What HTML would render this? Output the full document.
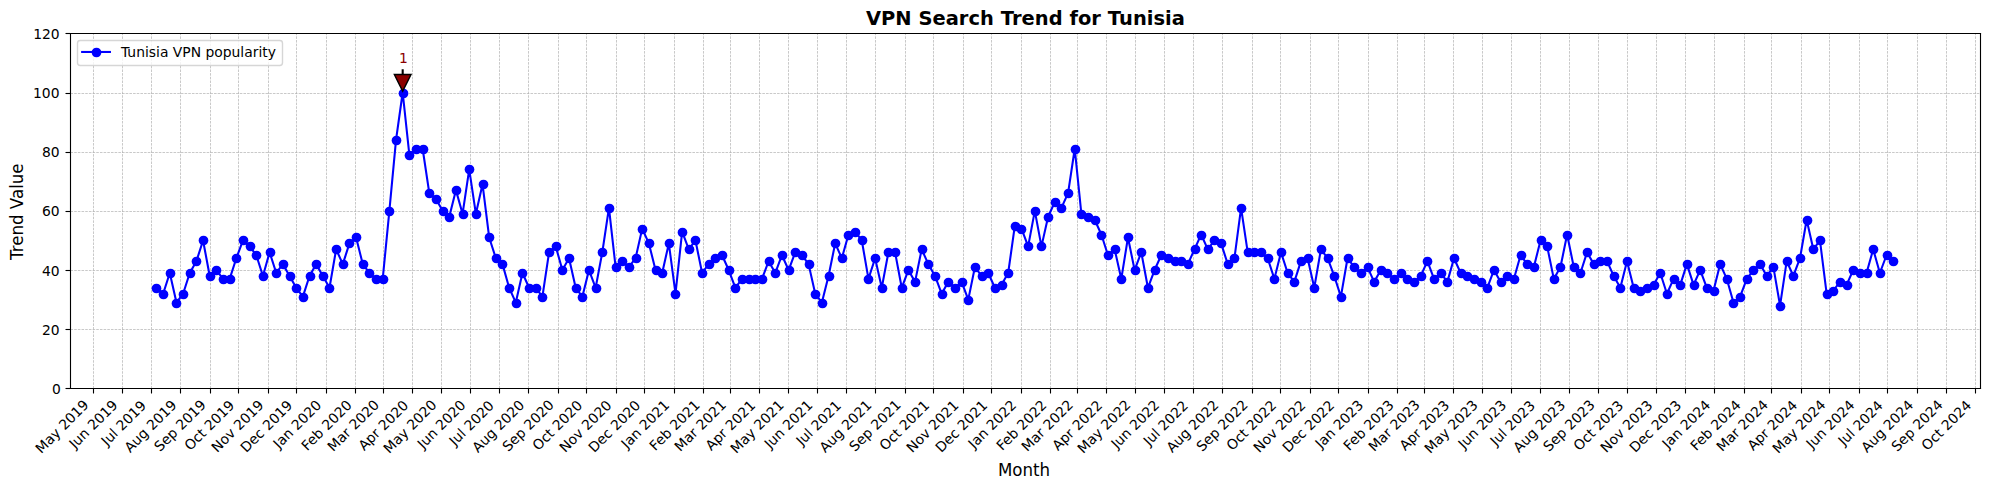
<!DOCTYPE html>
<html lang="en">
<head>
<meta charset="utf-8">
<title>VPN Search Trend for Tunisia</title>
<style>
html,body{margin:0;padding:0;background:#fff}
body{width:1990px;height:490px;overflow:hidden}
svg{display:block}
text{font-family:"DejaVu Sans", "Liberation Sans", sans-serif;fill:#000}
.t10{font-size:13.89px}
.t12{font-size:16.67px}
.ttl{font-size:19.44px;font-weight:bold}
.ann{font-size:13.89px;fill:#8b0000}
.grid line{stroke:#b0b0b0;stroke-width:0.69;stroke-dasharray:2.57 1.11}
.series{fill:none;stroke:#0000ff;stroke-width:2.08;stroke-linejoin:round;stroke-linecap:square}
.dots circle,.legdot{fill:#0000ff}
.arrow{fill:#8b0000;stroke:#000;stroke-width:1.39;stroke-linejoin:miter}
.frame line{stroke:#000;stroke-width:1.11;stroke-linecap:square}
.ticks line{stroke:#000;stroke-width:1.11}
.legbox{fill:#fff;fill-opacity:.8;stroke:#ccc;stroke-opacity:.8;stroke-width:1.39}
</style>
</head>
<body>
<svg width="1990" height="490" viewBox="0 0 1990 490" role="img" aria-label="VPN Search Trend for Tunisia">
<rect x="0" y="0" width="1990" height="490" fill="#ffffff"/>
<g class="grid">
<line x1="93.5" y1="388.5" x2="93.5" y2="33.5"/>
<line x1="122.5" y1="388.5" x2="122.5" y2="33.5"/>
<line x1="151.5" y1="388.5" x2="151.5" y2="33.5"/>
<line x1="180.5" y1="388.5" x2="180.5" y2="33.5"/>
<line x1="210.5" y1="388.5" x2="210.5" y2="33.5"/>
<line x1="238.5" y1="388.5" x2="238.5" y2="33.5"/>
<line x1="268.5" y1="388.5" x2="268.5" y2="33.5"/>
<line x1="296.5" y1="388.5" x2="296.5" y2="33.5"/>
<line x1="326.5" y1="388.5" x2="326.5" y2="33.5"/>
<line x1="355.5" y1="388.5" x2="355.5" y2="33.5"/>
<line x1="383.5" y1="388.5" x2="383.5" y2="33.5"/>
<line x1="412.5" y1="388.5" x2="412.5" y2="33.5"/>
<line x1="441.5" y1="388.5" x2="441.5" y2="33.5"/>
<line x1="470.5" y1="388.5" x2="470.5" y2="33.5"/>
<line x1="499.5" y1="388.5" x2="499.5" y2="33.5"/>
<line x1="528.5" y1="388.5" x2="528.5" y2="33.5"/>
<line x1="558.5" y1="388.5" x2="558.5" y2="33.5"/>
<line x1="586.5" y1="388.5" x2="586.5" y2="33.5"/>
<line x1="616.5" y1="388.5" x2="616.5" y2="33.5"/>
<line x1="644.5" y1="388.5" x2="644.5" y2="33.5"/>
<line x1="674.5" y1="388.5" x2="674.5" y2="33.5"/>
<line x1="703.5" y1="388.5" x2="703.5" y2="33.5"/>
<line x1="730.5" y1="388.5" x2="730.5" y2="33.5"/>
<line x1="759.5" y1="388.5" x2="759.5" y2="33.5"/>
<line x1="788.5" y1="388.5" x2="788.5" y2="33.5"/>
<line x1="817.5" y1="388.5" x2="817.5" y2="33.5"/>
<line x1="846.5" y1="388.5" x2="846.5" y2="33.5"/>
<line x1="875.5" y1="388.5" x2="875.5" y2="33.5"/>
<line x1="905.5" y1="388.5" x2="905.5" y2="33.5"/>
<line x1="933.5" y1="388.5" x2="933.5" y2="33.5"/>
<line x1="963.5" y1="388.5" x2="963.5" y2="33.5"/>
<line x1="991.5" y1="388.5" x2="991.5" y2="33.5"/>
<line x1="1021.5" y1="388.5" x2="1021.5" y2="33.5"/>
<line x1="1050.5" y1="388.5" x2="1050.5" y2="33.5"/>
<line x1="1077.5" y1="388.5" x2="1077.5" y2="33.5"/>
<line x1="1106.5" y1="388.5" x2="1106.5" y2="33.5"/>
<line x1="1135.5" y1="388.5" x2="1135.5" y2="33.5"/>
<line x1="1164.5" y1="388.5" x2="1164.5" y2="33.5"/>
<line x1="1193.5" y1="388.5" x2="1193.5" y2="33.5"/>
<line x1="1222.5" y1="388.5" x2="1222.5" y2="33.5"/>
<line x1="1252.5" y1="388.5" x2="1252.5" y2="33.5"/>
<line x1="1280.5" y1="388.5" x2="1280.5" y2="33.5"/>
<line x1="1310.5" y1="388.5" x2="1310.5" y2="33.5"/>
<line x1="1338.5" y1="388.5" x2="1338.5" y2="33.5"/>
<line x1="1368.5" y1="388.5" x2="1368.5" y2="33.5"/>
<line x1="1397.5" y1="388.5" x2="1397.5" y2="33.5"/>
<line x1="1424.5" y1="388.5" x2="1424.5" y2="33.5"/>
<line x1="1453.5" y1="388.5" x2="1453.5" y2="33.5"/>
<line x1="1482.5" y1="388.5" x2="1482.5" y2="33.5"/>
<line x1="1511.5" y1="388.5" x2="1511.5" y2="33.5"/>
<line x1="1540.5" y1="388.5" x2="1540.5" y2="33.5"/>
<line x1="1569.5" y1="388.5" x2="1569.5" y2="33.5"/>
<line x1="1598.5" y1="388.5" x2="1598.5" y2="33.5"/>
<line x1="1627.5" y1="388.5" x2="1627.5" y2="33.5"/>
<line x1="1656.5" y1="388.5" x2="1656.5" y2="33.5"/>
<line x1="1685.5" y1="388.5" x2="1685.5" y2="33.5"/>
<line x1="1714.5" y1="388.5" x2="1714.5" y2="33.5"/>
<line x1="1744.5" y1="388.5" x2="1744.5" y2="33.5"/>
<line x1="1771.5" y1="388.5" x2="1771.5" y2="33.5"/>
<line x1="1801.5" y1="388.5" x2="1801.5" y2="33.5"/>
<line x1="1829.5" y1="388.5" x2="1829.5" y2="33.5"/>
<line x1="1859.5" y1="388.5" x2="1859.5" y2="33.5"/>
<line x1="1887.5" y1="388.5" x2="1887.5" y2="33.5"/>
<line x1="1917.5" y1="388.5" x2="1917.5" y2="33.5"/>
<line x1="1946.5" y1="388.5" x2="1946.5" y2="33.5"/>
<line x1="1975.5" y1="388.5" x2="1975.5" y2="33.5"/>
<line x1="70.5" y1="388.5" x2="1980.5" y2="388.5"/>
<line x1="70.5" y1="329.5" x2="1980.5" y2="329.5"/>
<line x1="70.5" y1="270.5" x2="1980.5" y2="270.5"/>
<line x1="70.5" y1="211.5" x2="1980.5" y2="211.5"/>
<line x1="70.5" y1="152.5" x2="1980.5" y2="152.5"/>
<line x1="70.5" y1="93.5" x2="1980.5" y2="93.5"/>
<line x1="70.5" y1="33.5" x2="1980.5" y2="33.5"/>
</g>
<polyline class="series" points="156.49,287.79 163.14,293.71 169.79,272.99 176.45,302.58 183.1,293.71 189.76,272.99 196.41,261.16 203.06,240.45 209.72,275.95 216.37,270.04 223.03,278.91 229.68,278.91 236.33,258.2 242.99,240.45 249.64,246.36 256.3,255.24 262.95,275.95 269.6,252.28 276.26,272.99 282.91,264.12 289.57,275.95 296.22,287.79 302.87,296.66 309.53,275.95 316.18,264.12 322.84,275.95 329.49,287.79 336.14,249.32 342.8,264.12 349.45,243.41 356.11,237.49 362.76,264.12 369.41,272.99 376.07,278.91 382.72,278.91 389.37,210.86 396.03,139.85 402.68,92.51 409.34,154.64 415.99,148.73 422.64,148.73 429.3,193.11 435.95,199.02 442.61,210.86 449.26,216.78 455.91,190.15 462.57,213.82 469.22,169.44 475.88,213.82 482.53,184.23 489.18,237.49 495.84,258.2 502.49,264.12 509.15,287.79 515.8,302.58 522.45,272.99 529.11,287.79 535.76,287.79 542.42,296.66 549.07,252.28 555.72,246.36 562.38,270.04 569.03,258.2 575.69,287.79 582.34,296.66 588.99,270.04 595.65,287.79 602.3,252.28 608.95,207.9 615.61,267.08 622.26,261.16 628.92,267.08 635.57,258.2 642.22,228.61 648.88,243.41 655.53,270.04 662.19,272.99 668.84,243.41 675.49,293.71 682.15,231.57 688.8,249.32 695.46,240.45 702.11,272.99 708.76,264.12 715.42,258.2 722.07,255.24 728.73,270.04 735.38,287.79 742.03,278.91 748.69,278.91 755.34,278.91 762,278.91 768.65,261.16 775.3,272.99 781.96,255.24 788.61,270.04 795.27,252.28 801.92,255.24 808.57,264.12 815.23,293.71 821.88,302.58 828.54,275.95 835.19,243.41 841.84,258.2 848.5,234.53 855.15,231.57 861.8,240.45 868.46,278.91 875.11,258.2 881.77,287.79 888.42,252.28 895.07,252.28 901.73,287.79 908.38,270.04 915.04,281.87 921.69,249.32 928.34,264.12 935,275.95 941.65,293.71 948.31,281.87 954.96,287.79 961.61,281.87 968.27,299.62 974.92,267.08 981.58,275.95 988.23,272.99 994.88,287.79 1001.54,284.83 1008.19,272.99 1014.85,225.65 1021.5,228.61 1028.15,246.36 1034.81,210.86 1041.46,246.36 1048.12,216.78 1054.77,201.98 1061.42,207.9 1068.08,193.11 1074.73,148.73 1081.38,213.82 1088.04,216.78 1094.69,219.74 1101.35,234.53 1108,255.24 1114.65,249.32 1121.31,278.91 1127.96,237.49 1134.62,270.04 1141.27,252.28 1147.92,287.79 1154.58,270.04 1161.23,255.24 1167.89,258.2 1174.54,261.16 1181.19,261.16 1187.85,264.12 1194.5,249.32 1201.16,234.53 1207.81,249.32 1214.46,240.45 1221.12,243.41 1227.77,264.12 1234.43,258.2 1241.08,207.9 1247.73,252.28 1254.39,252.28 1261.04,252.28 1267.7,258.2 1274.35,278.91 1281,252.28 1287.66,272.99 1294.31,281.87 1300.97,261.16 1307.62,258.2 1314.27,287.79 1320.93,249.32 1327.58,258.2 1334.23,275.95 1340.89,296.66 1347.54,258.2 1354.2,267.08 1360.85,272.99 1367.5,267.08 1374.16,281.87 1380.81,270.04 1387.47,272.99 1394.12,278.91 1400.77,272.99 1407.43,278.91 1414.08,281.87 1420.74,275.95 1427.39,261.16 1434.04,278.91 1440.7,272.99 1447.35,281.87 1454.01,258.2 1460.66,272.99 1467.31,275.95 1473.97,278.91 1480.62,281.87 1487.28,287.79 1493.93,270.04 1500.58,281.87 1507.24,275.95 1513.89,278.91 1520.55,255.24 1527.2,264.12 1533.85,267.08 1540.51,240.45 1547.16,246.36 1553.81,278.91 1560.47,267.08 1567.12,234.53 1573.78,267.08 1580.43,272.99 1587.08,252.28 1593.74,264.12 1600.39,261.16 1607.05,261.16 1613.7,275.95 1620.35,287.79 1627.01,261.16 1633.66,287.79 1640.32,290.75 1646.97,287.79 1653.62,284.83 1660.28,272.99 1666.93,293.71 1673.59,278.91 1680.24,284.83 1686.89,264.12 1693.55,284.83 1700.2,270.04 1706.86,287.79 1713.51,290.75 1720.16,264.12 1726.82,278.91 1733.47,302.58 1740.13,296.66 1746.78,278.91 1753.43,270.04 1760.09,264.12 1766.74,275.95 1773.4,267.08 1780.05,305.54 1786.7,261.16 1793.36,275.95 1800.01,258.2 1806.66,219.74 1813.32,249.32 1819.97,240.45 1826.63,293.71 1833.28,290.75 1839.93,281.87 1846.59,284.83 1853.24,270.04 1859.9,272.99 1866.55,272.99 1873.2,249.32 1879.86,272.99 1886.51,255.24 1893.17,261.16"/>
<g class="dots">
<circle cx="156.5" cy="288.5" r="4.86"/>
<circle cx="163.5" cy="294.5" r="4.86"/>
<circle cx="170.5" cy="273.5" r="4.86"/>
<circle cx="176.5" cy="303.5" r="4.86"/>
<circle cx="183.5" cy="294.5" r="4.86"/>
<circle cx="190.5" cy="273.5" r="4.86"/>
<circle cx="196.5" cy="261.5" r="4.86"/>
<circle cx="203.5" cy="240.5" r="4.86"/>
<circle cx="210.5" cy="276.5" r="4.86"/>
<circle cx="216.5" cy="270.5" r="4.86"/>
<circle cx="223.5" cy="279.5" r="4.86"/>
<circle cx="230.5" cy="279.5" r="4.86"/>
<circle cx="236.5" cy="258.5" r="4.86"/>
<circle cx="243.5" cy="240.5" r="4.86"/>
<circle cx="250.5" cy="246.5" r="4.86"/>
<circle cx="256.5" cy="255.5" r="4.86"/>
<circle cx="263.5" cy="276.5" r="4.86"/>
<circle cx="270.5" cy="252.5" r="4.86"/>
<circle cx="276.5" cy="273.5" r="4.86"/>
<circle cx="283.5" cy="264.5" r="4.86"/>
<circle cx="290.5" cy="276.5" r="4.86"/>
<circle cx="296.5" cy="288.5" r="4.86"/>
<circle cx="303.5" cy="297.5" r="4.86"/>
<circle cx="310.5" cy="276.5" r="4.86"/>
<circle cx="316.5" cy="264.5" r="4.86"/>
<circle cx="323.5" cy="276.5" r="4.86"/>
<circle cx="329.5" cy="288.5" r="4.86"/>
<circle cx="336.5" cy="249.5" r="4.86"/>
<circle cx="343.5" cy="264.5" r="4.86"/>
<circle cx="349.5" cy="243.5" r="4.86"/>
<circle cx="356.5" cy="237.5" r="4.86"/>
<circle cx="363.5" cy="264.5" r="4.86"/>
<circle cx="369.5" cy="273.5" r="4.86"/>
<circle cx="376.5" cy="279.5" r="4.86"/>
<circle cx="383.5" cy="279.5" r="4.86"/>
<circle cx="389.5" cy="211.5" r="4.86"/>
<circle cx="396.5" cy="140.5" r="4.86"/>
<circle cx="403.5" cy="93.5" r="4.86"/>
<circle cx="409.5" cy="155.5" r="4.86"/>
<circle cx="416.5" cy="149.5" r="4.86"/>
<circle cx="423.5" cy="149.5" r="4.86"/>
<circle cx="429.5" cy="193.5" r="4.86"/>
<circle cx="436.5" cy="199.5" r="4.86"/>
<circle cx="443.5" cy="211.5" r="4.86"/>
<circle cx="449.5" cy="217.5" r="4.86"/>
<circle cx="456.5" cy="190.5" r="4.86"/>
<circle cx="463.5" cy="214.5" r="4.86"/>
<circle cx="469.5" cy="169.5" r="4.86"/>
<circle cx="476.5" cy="214.5" r="4.86"/>
<circle cx="483.5" cy="184.5" r="4.86"/>
<circle cx="489.5" cy="237.5" r="4.86"/>
<circle cx="496.5" cy="258.5" r="4.86"/>
<circle cx="502.5" cy="264.5" r="4.86"/>
<circle cx="509.5" cy="288.5" r="4.86"/>
<circle cx="516.5" cy="303.5" r="4.86"/>
<circle cx="522.5" cy="273.5" r="4.86"/>
<circle cx="529.5" cy="288.5" r="4.86"/>
<circle cx="536.5" cy="288.5" r="4.86"/>
<circle cx="542.5" cy="297.5" r="4.86"/>
<circle cx="549.5" cy="252.5" r="4.86"/>
<circle cx="556.5" cy="246.5" r="4.86"/>
<circle cx="562.5" cy="270.5" r="4.86"/>
<circle cx="569.5" cy="258.5" r="4.86"/>
<circle cx="576.5" cy="288.5" r="4.86"/>
<circle cx="582.5" cy="297.5" r="4.86"/>
<circle cx="589.5" cy="270.5" r="4.86"/>
<circle cx="596.5" cy="288.5" r="4.86"/>
<circle cx="602.5" cy="252.5" r="4.86"/>
<circle cx="609.5" cy="208.5" r="4.86"/>
<circle cx="616.5" cy="267.5" r="4.86"/>
<circle cx="622.5" cy="261.5" r="4.86"/>
<circle cx="629.5" cy="267.5" r="4.86"/>
<circle cx="636.5" cy="258.5" r="4.86"/>
<circle cx="642.5" cy="229.5" r="4.86"/>
<circle cx="649.5" cy="243.5" r="4.86"/>
<circle cx="656.5" cy="270.5" r="4.86"/>
<circle cx="662.5" cy="273.5" r="4.86"/>
<circle cx="669.5" cy="243.5" r="4.86"/>
<circle cx="675.5" cy="294.5" r="4.86"/>
<circle cx="682.5" cy="232.5" r="4.86"/>
<circle cx="689.5" cy="249.5" r="4.86"/>
<circle cx="695.5" cy="240.5" r="4.86"/>
<circle cx="702.5" cy="273.5" r="4.86"/>
<circle cx="709.5" cy="264.5" r="4.86"/>
<circle cx="715.5" cy="258.5" r="4.86"/>
<circle cx="722.5" cy="255.5" r="4.86"/>
<circle cx="729.5" cy="270.5" r="4.86"/>
<circle cx="735.5" cy="288.5" r="4.86"/>
<circle cx="742.5" cy="279.5" r="4.86"/>
<circle cx="749.5" cy="279.5" r="4.86"/>
<circle cx="755.5" cy="279.5" r="4.86"/>
<circle cx="762.5" cy="279.5" r="4.86"/>
<circle cx="769.5" cy="261.5" r="4.86"/>
<circle cx="775.5" cy="273.5" r="4.86"/>
<circle cx="782.5" cy="255.5" r="4.86"/>
<circle cx="789.5" cy="270.5" r="4.86"/>
<circle cx="795.5" cy="252.5" r="4.86"/>
<circle cx="802.5" cy="255.5" r="4.86"/>
<circle cx="809.5" cy="264.5" r="4.86"/>
<circle cx="815.5" cy="294.5" r="4.86"/>
<circle cx="822.5" cy="303.5" r="4.86"/>
<circle cx="829.5" cy="276.5" r="4.86"/>
<circle cx="835.5" cy="243.5" r="4.86"/>
<circle cx="842.5" cy="258.5" r="4.86"/>
<circle cx="848.5" cy="235.5" r="4.86"/>
<circle cx="855.5" cy="232.5" r="4.86"/>
<circle cx="862.5" cy="240.5" r="4.86"/>
<circle cx="868.5" cy="279.5" r="4.86"/>
<circle cx="875.5" cy="258.5" r="4.86"/>
<circle cx="882.5" cy="288.5" r="4.86"/>
<circle cx="888.5" cy="252.5" r="4.86"/>
<circle cx="895.5" cy="252.5" r="4.86"/>
<circle cx="902.5" cy="288.5" r="4.86"/>
<circle cx="908.5" cy="270.5" r="4.86"/>
<circle cx="915.5" cy="282.5" r="4.86"/>
<circle cx="922.5" cy="249.5" r="4.86"/>
<circle cx="928.5" cy="264.5" r="4.86"/>
<circle cx="935.5" cy="276.5" r="4.86"/>
<circle cx="942.5" cy="294.5" r="4.86"/>
<circle cx="948.5" cy="282.5" r="4.86"/>
<circle cx="955.5" cy="288.5" r="4.86"/>
<circle cx="962.5" cy="282.5" r="4.86"/>
<circle cx="968.5" cy="300.5" r="4.86"/>
<circle cx="975.5" cy="267.5" r="4.86"/>
<circle cx="982.5" cy="276.5" r="4.86"/>
<circle cx="988.5" cy="273.5" r="4.86"/>
<circle cx="995.5" cy="288.5" r="4.86"/>
<circle cx="1002.5" cy="285.5" r="4.86"/>
<circle cx="1008.5" cy="273.5" r="4.86"/>
<circle cx="1015.5" cy="226.5" r="4.86"/>
<circle cx="1021.5" cy="229.5" r="4.86"/>
<circle cx="1028.5" cy="246.5" r="4.86"/>
<circle cx="1035.5" cy="211.5" r="4.86"/>
<circle cx="1041.5" cy="246.5" r="4.86"/>
<circle cx="1048.5" cy="217.5" r="4.86"/>
<circle cx="1055.5" cy="202.5" r="4.86"/>
<circle cx="1061.5" cy="208.5" r="4.86"/>
<circle cx="1068.5" cy="193.5" r="4.86"/>
<circle cx="1075.5" cy="149.5" r="4.86"/>
<circle cx="1081.5" cy="214.5" r="4.86"/>
<circle cx="1088.5" cy="217.5" r="4.86"/>
<circle cx="1095.5" cy="220.5" r="4.86"/>
<circle cx="1101.5" cy="235.5" r="4.86"/>
<circle cx="1108.5" cy="255.5" r="4.86"/>
<circle cx="1115.5" cy="249.5" r="4.86"/>
<circle cx="1121.5" cy="279.5" r="4.86"/>
<circle cx="1128.5" cy="237.5" r="4.86"/>
<circle cx="1135.5" cy="270.5" r="4.86"/>
<circle cx="1141.5" cy="252.5" r="4.86"/>
<circle cx="1148.5" cy="288.5" r="4.86"/>
<circle cx="1155.5" cy="270.5" r="4.86"/>
<circle cx="1161.5" cy="255.5" r="4.86"/>
<circle cx="1168.5" cy="258.5" r="4.86"/>
<circle cx="1175.5" cy="261.5" r="4.86"/>
<circle cx="1181.5" cy="261.5" r="4.86"/>
<circle cx="1188.5" cy="264.5" r="4.86"/>
<circle cx="1195.5" cy="249.5" r="4.86"/>
<circle cx="1201.5" cy="235.5" r="4.86"/>
<circle cx="1208.5" cy="249.5" r="4.86"/>
<circle cx="1214.5" cy="240.5" r="4.86"/>
<circle cx="1221.5" cy="243.5" r="4.86"/>
<circle cx="1228.5" cy="264.5" r="4.86"/>
<circle cx="1234.5" cy="258.5" r="4.86"/>
<circle cx="1241.5" cy="208.5" r="4.86"/>
<circle cx="1248.5" cy="252.5" r="4.86"/>
<circle cx="1254.5" cy="252.5" r="4.86"/>
<circle cx="1261.5" cy="252.5" r="4.86"/>
<circle cx="1268.5" cy="258.5" r="4.86"/>
<circle cx="1274.5" cy="279.5" r="4.86"/>
<circle cx="1281.5" cy="252.5" r="4.86"/>
<circle cx="1288.5" cy="273.5" r="4.86"/>
<circle cx="1294.5" cy="282.5" r="4.86"/>
<circle cx="1301.5" cy="261.5" r="4.86"/>
<circle cx="1308.5" cy="258.5" r="4.86"/>
<circle cx="1314.5" cy="288.5" r="4.86"/>
<circle cx="1321.5" cy="249.5" r="4.86"/>
<circle cx="1328.5" cy="258.5" r="4.86"/>
<circle cx="1334.5" cy="276.5" r="4.86"/>
<circle cx="1341.5" cy="297.5" r="4.86"/>
<circle cx="1348.5" cy="258.5" r="4.86"/>
<circle cx="1354.5" cy="267.5" r="4.86"/>
<circle cx="1361.5" cy="273.5" r="4.86"/>
<circle cx="1368.5" cy="267.5" r="4.86"/>
<circle cx="1374.5" cy="282.5" r="4.86"/>
<circle cx="1381.5" cy="270.5" r="4.86"/>
<circle cx="1387.5" cy="273.5" r="4.86"/>
<circle cx="1394.5" cy="279.5" r="4.86"/>
<circle cx="1401.5" cy="273.5" r="4.86"/>
<circle cx="1407.5" cy="279.5" r="4.86"/>
<circle cx="1414.5" cy="282.5" r="4.86"/>
<circle cx="1421.5" cy="276.5" r="4.86"/>
<circle cx="1427.5" cy="261.5" r="4.86"/>
<circle cx="1434.5" cy="279.5" r="4.86"/>
<circle cx="1441.5" cy="273.5" r="4.86"/>
<circle cx="1447.5" cy="282.5" r="4.86"/>
<circle cx="1454.5" cy="258.5" r="4.86"/>
<circle cx="1461.5" cy="273.5" r="4.86"/>
<circle cx="1467.5" cy="276.5" r="4.86"/>
<circle cx="1474.5" cy="279.5" r="4.86"/>
<circle cx="1481.5" cy="282.5" r="4.86"/>
<circle cx="1487.5" cy="288.5" r="4.86"/>
<circle cx="1494.5" cy="270.5" r="4.86"/>
<circle cx="1501.5" cy="282.5" r="4.86"/>
<circle cx="1507.5" cy="276.5" r="4.86"/>
<circle cx="1514.5" cy="279.5" r="4.86"/>
<circle cx="1521.5" cy="255.5" r="4.86"/>
<circle cx="1527.5" cy="264.5" r="4.86"/>
<circle cx="1534.5" cy="267.5" r="4.86"/>
<circle cx="1541.5" cy="240.5" r="4.86"/>
<circle cx="1547.5" cy="246.5" r="4.86"/>
<circle cx="1554.5" cy="279.5" r="4.86"/>
<circle cx="1560.5" cy="267.5" r="4.86"/>
<circle cx="1567.5" cy="235.5" r="4.86"/>
<circle cx="1574.5" cy="267.5" r="4.86"/>
<circle cx="1580.5" cy="273.5" r="4.86"/>
<circle cx="1587.5" cy="252.5" r="4.86"/>
<circle cx="1594.5" cy="264.5" r="4.86"/>
<circle cx="1600.5" cy="261.5" r="4.86"/>
<circle cx="1607.5" cy="261.5" r="4.86"/>
<circle cx="1614.5" cy="276.5" r="4.86"/>
<circle cx="1620.5" cy="288.5" r="4.86"/>
<circle cx="1627.5" cy="261.5" r="4.86"/>
<circle cx="1634.5" cy="288.5" r="4.86"/>
<circle cx="1640.5" cy="291.5" r="4.86"/>
<circle cx="1647.5" cy="288.5" r="4.86"/>
<circle cx="1654.5" cy="285.5" r="4.86"/>
<circle cx="1660.5" cy="273.5" r="4.86"/>
<circle cx="1667.5" cy="294.5" r="4.86"/>
<circle cx="1674.5" cy="279.5" r="4.86"/>
<circle cx="1680.5" cy="285.5" r="4.86"/>
<circle cx="1687.5" cy="264.5" r="4.86"/>
<circle cx="1694.5" cy="285.5" r="4.86"/>
<circle cx="1700.5" cy="270.5" r="4.86"/>
<circle cx="1707.5" cy="288.5" r="4.86"/>
<circle cx="1714.5" cy="291.5" r="4.86"/>
<circle cx="1720.5" cy="264.5" r="4.86"/>
<circle cx="1727.5" cy="279.5" r="4.86"/>
<circle cx="1733.5" cy="303.5" r="4.86"/>
<circle cx="1740.5" cy="297.5" r="4.86"/>
<circle cx="1747.5" cy="279.5" r="4.86"/>
<circle cx="1753.5" cy="270.5" r="4.86"/>
<circle cx="1760.5" cy="264.5" r="4.86"/>
<circle cx="1767.5" cy="276.5" r="4.86"/>
<circle cx="1773.5" cy="267.5" r="4.86"/>
<circle cx="1780.5" cy="306.5" r="4.86"/>
<circle cx="1787.5" cy="261.5" r="4.86"/>
<circle cx="1793.5" cy="276.5" r="4.86"/>
<circle cx="1800.5" cy="258.5" r="4.86"/>
<circle cx="1807.5" cy="220.5" r="4.86"/>
<circle cx="1813.5" cy="249.5" r="4.86"/>
<circle cx="1820.5" cy="240.5" r="4.86"/>
<circle cx="1827.5" cy="294.5" r="4.86"/>
<circle cx="1833.5" cy="291.5" r="4.86"/>
<circle cx="1840.5" cy="282.5" r="4.86"/>
<circle cx="1847.5" cy="285.5" r="4.86"/>
<circle cx="1853.5" cy="270.5" r="4.86"/>
<circle cx="1860.5" cy="273.5" r="4.86"/>
<circle cx="1867.5" cy="273.5" r="4.86"/>
<circle cx="1873.5" cy="249.5" r="4.86"/>
<circle cx="1880.5" cy="273.5" r="4.86"/>
<circle cx="1887.5" cy="255.5" r="4.86"/>
<circle cx="1893.5" cy="261.5" r="4.86"/>
</g>
<path class="arrow" d="M403.03 70.02 L403.03 74.51 L411.02 74.51 L406.85 82.84 L402.68 91.18 L398.52 82.84 L394.35 74.51 L402.34 74.51 L402.34 70.02 L403.03 70.02 Z"/>
<g class="frame">
<line x1="70.5" y1="388.5" x2="70.5" y2="33.5"/>
<line x1="1980.5" y1="388.5" x2="1980.5" y2="33.5"/>
<line x1="70.5" y1="388.5" x2="1980.5" y2="388.5"/>
<line x1="70.5" y1="33.5" x2="1980.5" y2="33.5"/>
</g>
<g class="ticks">
<line x1="93.5" y1="388.5" x2="93.5" y2="393.5"/>
<line x1="122.5" y1="388.5" x2="122.5" y2="393.5"/>
<line x1="151.5" y1="388.5" x2="151.5" y2="393.5"/>
<line x1="180.5" y1="388.5" x2="180.5" y2="393.5"/>
<line x1="210.5" y1="388.5" x2="210.5" y2="393.5"/>
<line x1="238.5" y1="388.5" x2="238.5" y2="393.5"/>
<line x1="268.5" y1="388.5" x2="268.5" y2="393.5"/>
<line x1="296.5" y1="388.5" x2="296.5" y2="393.5"/>
<line x1="326.5" y1="388.5" x2="326.5" y2="393.5"/>
<line x1="355.5" y1="388.5" x2="355.5" y2="393.5"/>
<line x1="383.5" y1="388.5" x2="383.5" y2="393.5"/>
<line x1="412.5" y1="388.5" x2="412.5" y2="393.5"/>
<line x1="441.5" y1="388.5" x2="441.5" y2="393.5"/>
<line x1="470.5" y1="388.5" x2="470.5" y2="393.5"/>
<line x1="499.5" y1="388.5" x2="499.5" y2="393.5"/>
<line x1="528.5" y1="388.5" x2="528.5" y2="393.5"/>
<line x1="558.5" y1="388.5" x2="558.5" y2="393.5"/>
<line x1="586.5" y1="388.5" x2="586.5" y2="393.5"/>
<line x1="616.5" y1="388.5" x2="616.5" y2="393.5"/>
<line x1="644.5" y1="388.5" x2="644.5" y2="393.5"/>
<line x1="674.5" y1="388.5" x2="674.5" y2="393.5"/>
<line x1="703.5" y1="388.5" x2="703.5" y2="393.5"/>
<line x1="730.5" y1="388.5" x2="730.5" y2="393.5"/>
<line x1="759.5" y1="388.5" x2="759.5" y2="393.5"/>
<line x1="788.5" y1="388.5" x2="788.5" y2="393.5"/>
<line x1="817.5" y1="388.5" x2="817.5" y2="393.5"/>
<line x1="846.5" y1="388.5" x2="846.5" y2="393.5"/>
<line x1="875.5" y1="388.5" x2="875.5" y2="393.5"/>
<line x1="905.5" y1="388.5" x2="905.5" y2="393.5"/>
<line x1="933.5" y1="388.5" x2="933.5" y2="393.5"/>
<line x1="963.5" y1="388.5" x2="963.5" y2="393.5"/>
<line x1="991.5" y1="388.5" x2="991.5" y2="393.5"/>
<line x1="1021.5" y1="388.5" x2="1021.5" y2="393.5"/>
<line x1="1050.5" y1="388.5" x2="1050.5" y2="393.5"/>
<line x1="1077.5" y1="388.5" x2="1077.5" y2="393.5"/>
<line x1="1106.5" y1="388.5" x2="1106.5" y2="393.5"/>
<line x1="1135.5" y1="388.5" x2="1135.5" y2="393.5"/>
<line x1="1164.5" y1="388.5" x2="1164.5" y2="393.5"/>
<line x1="1193.5" y1="388.5" x2="1193.5" y2="393.5"/>
<line x1="1222.5" y1="388.5" x2="1222.5" y2="393.5"/>
<line x1="1252.5" y1="388.5" x2="1252.5" y2="393.5"/>
<line x1="1280.5" y1="388.5" x2="1280.5" y2="393.5"/>
<line x1="1310.5" y1="388.5" x2="1310.5" y2="393.5"/>
<line x1="1338.5" y1="388.5" x2="1338.5" y2="393.5"/>
<line x1="1368.5" y1="388.5" x2="1368.5" y2="393.5"/>
<line x1="1397.5" y1="388.5" x2="1397.5" y2="393.5"/>
<line x1="1424.5" y1="388.5" x2="1424.5" y2="393.5"/>
<line x1="1453.5" y1="388.5" x2="1453.5" y2="393.5"/>
<line x1="1482.5" y1="388.5" x2="1482.5" y2="393.5"/>
<line x1="1511.5" y1="388.5" x2="1511.5" y2="393.5"/>
<line x1="1540.5" y1="388.5" x2="1540.5" y2="393.5"/>
<line x1="1569.5" y1="388.5" x2="1569.5" y2="393.5"/>
<line x1="1598.5" y1="388.5" x2="1598.5" y2="393.5"/>
<line x1="1627.5" y1="388.5" x2="1627.5" y2="393.5"/>
<line x1="1656.5" y1="388.5" x2="1656.5" y2="393.5"/>
<line x1="1685.5" y1="388.5" x2="1685.5" y2="393.5"/>
<line x1="1714.5" y1="388.5" x2="1714.5" y2="393.5"/>
<line x1="1744.5" y1="388.5" x2="1744.5" y2="393.5"/>
<line x1="1771.5" y1="388.5" x2="1771.5" y2="393.5"/>
<line x1="1801.5" y1="388.5" x2="1801.5" y2="393.5"/>
<line x1="1829.5" y1="388.5" x2="1829.5" y2="393.5"/>
<line x1="1859.5" y1="388.5" x2="1859.5" y2="393.5"/>
<line x1="1887.5" y1="388.5" x2="1887.5" y2="393.5"/>
<line x1="1917.5" y1="388.5" x2="1917.5" y2="393.5"/>
<line x1="1946.5" y1="388.5" x2="1946.5" y2="393.5"/>
<line x1="1975.5" y1="388.5" x2="1975.5" y2="393.5"/>
<line x1="70.5" y1="388.5" x2="65.5" y2="388.5"/>
<line x1="70.5" y1="329.5" x2="65.5" y2="329.5"/>
<line x1="70.5" y1="270.5" x2="65.5" y2="270.5"/>
<line x1="70.5" y1="211.5" x2="65.5" y2="211.5"/>
<line x1="70.5" y1="152.5" x2="65.5" y2="152.5"/>
<line x1="70.5" y1="93.5" x2="65.5" y2="93.5"/>
<line x1="70.5" y1="33.5" x2="65.5" y2="33.5"/>
</g>
<g class="xt">
<text class="t10" text-anchor="end" transform="translate(89.6 405.88) rotate(-45)">May 2019</text>
<text class="t10" text-anchor="end" transform="translate(118.38 405.9) rotate(-45)">Jun 2019</text>
<text class="t10" text-anchor="end" transform="translate(146.92 406.45) rotate(-45)">Jul 2019</text>
<text class="t10" text-anchor="end" transform="translate(177.41 405.93) rotate(-45)">Aug 2019</text>
<text class="t10" text-anchor="end" transform="translate(206.69 405.66) rotate(-45)">Sep 2019</text>
<text class="t10" text-anchor="end" transform="translate(235.2 406.2) rotate(-45)">Oct 2019</text>
<text class="t10" text-anchor="end" transform="translate(264.4 405.93) rotate(-45)">Nov 2019</text>
<text class="t10" text-anchor="end" transform="translate(293.36 406.18) rotate(-45)">Dec 2019</text>
<text class="t10" text-anchor="end" transform="translate(322.3 405.96) rotate(-45)">Jan 2020</text>
<text class="t10" text-anchor="end" transform="translate(352.69 405.97) rotate(-45)">Feb 2020</text>
<text class="t10" text-anchor="end" transform="translate(379.94 405.65) rotate(-45)">Mar 2020</text>
<text class="t10" text-anchor="end" transform="translate(409.23 406.23) rotate(-45)">Apr 2020</text>
<text class="t10" text-anchor="end" transform="translate(437.6 405.79) rotate(-45)">May 2020</text>
<text class="t10" text-anchor="end" transform="translate(466.58 405.99) rotate(-45)">Jun 2020</text>
<text class="t10" text-anchor="end" transform="translate(494.87 406.46) rotate(-45)">Jul 2020</text>
<text class="t10" text-anchor="end" transform="translate(525.3 406.05) rotate(-45)">Aug 2020</text>
<text class="t10" text-anchor="end" transform="translate(554.72 405.76) rotate(-45)">Sep 2020</text>
<text class="t10" text-anchor="end" transform="translate(583.28 406.21) rotate(-45)">Oct 2020</text>
<text class="t10" text-anchor="end" transform="translate(612.45 406.13) rotate(-45)">Nov 2020</text>
<text class="t10" text-anchor="end" transform="translate(641.36 406.23) rotate(-45)">Dec 2020</text>
<text class="t10" text-anchor="end" transform="translate(670.34 405.97) rotate(-45)">Jan 2021</text>
<text class="t10" text-anchor="end" transform="translate(700.74 405.92) rotate(-45)">Feb 2021</text>
<text class="t10" text-anchor="end" transform="translate(726.89 405.67) rotate(-45)">Mar 2021</text>
<text class="t10" text-anchor="end" transform="translate(756.24 406.18) rotate(-45)">Apr 2021</text>
<text class="t10" text-anchor="end" transform="translate(784.7 405.9) rotate(-45)">May 2021</text>
<text class="t10" text-anchor="end" transform="translate(813.55 405.93) rotate(-45)">Jun 2021</text>
<text class="t10" text-anchor="end" transform="translate(841.91 406.44) rotate(-45)">Jul 2021</text>
<text class="t10" text-anchor="end" transform="translate(872.47 406.03) rotate(-45)">Aug 2021</text>
<text class="t10" text-anchor="end" transform="translate(901.68 405.69) rotate(-45)">Sep 2021</text>
<text class="t10" text-anchor="end" transform="translate(930.34 406.21) rotate(-45)">Oct 2021</text>
<text class="t10" text-anchor="end" transform="translate(959.44 406.14) rotate(-45)">Nov 2021</text>
<text class="t10" text-anchor="end" transform="translate(988.26 406.23) rotate(-45)">Dec 2021</text>
<text class="t10" text-anchor="end" transform="translate(1017.21 405.95) rotate(-45)">Jan 2022</text>
<text class="t10" text-anchor="end" transform="translate(1047.62 405.91) rotate(-45)">Feb 2022</text>
<text class="t10" text-anchor="end" transform="translate(1073.88 405.74) rotate(-45)">Mar 2022</text>
<text class="t10" text-anchor="end" transform="translate(1103.18 406.25) rotate(-45)">Apr 2022</text>
<text class="t10" text-anchor="end" transform="translate(1131.61 405.85) rotate(-45)">May 2022</text>
<text class="t10" text-anchor="end" transform="translate(1160.36 405.94) rotate(-45)">Jun 2022</text>
<text class="t10" text-anchor="end" transform="translate(1189.06 406.45) rotate(-45)">Jul 2022</text>
<text class="t10" text-anchor="end" transform="translate(1219.39 405.96) rotate(-45)">Aug 2022</text>
<text class="t10" text-anchor="end" transform="translate(1248.71 405.69) rotate(-45)">Sep 2022</text>
<text class="t10" text-anchor="end" transform="translate(1277.27 406.25) rotate(-45)">Oct 2022</text>
<text class="t10" text-anchor="end" transform="translate(1306.44 406.14) rotate(-45)">Nov 2022</text>
<text class="t10" text-anchor="end" transform="translate(1335.36 406.27) rotate(-45)">Dec 2022</text>
<text class="t10" text-anchor="end" transform="translate(1364.29 405.89) rotate(-45)">Jan 2023</text>
<text class="t10" text-anchor="end" transform="translate(1394.71 406.01) rotate(-45)">Feb 2023</text>
<text class="t10" text-anchor="end" transform="translate(1420.87 405.74) rotate(-45)">Mar 2023</text>
<text class="t10" text-anchor="end" transform="translate(1450.27 406.25) rotate(-45)">Apr 2023</text>
<text class="t10" text-anchor="end" transform="translate(1478.69 405.9) rotate(-45)">May 2023</text>
<text class="t10" text-anchor="end" transform="translate(1507.35 405.98) rotate(-45)">Jun 2023</text>
<text class="t10" text-anchor="end" transform="translate(1535.92 406.48) rotate(-45)">Jul 2023</text>
<text class="t10" text-anchor="end" transform="translate(1566.33 405.94) rotate(-45)">Aug 2023</text>
<text class="t10" text-anchor="end" transform="translate(1595.63 405.67) rotate(-45)">Sep 2023</text>
<text class="t10" text-anchor="end" transform="translate(1624.35 406.39) rotate(-45)">Oct 2023</text>
<text class="t10" text-anchor="end" transform="translate(1653.5 406.14) rotate(-45)">Nov 2023</text>
<text class="t10" text-anchor="end" transform="translate(1682.25 406.25) rotate(-45)">Dec 2023</text>
<text class="t10" text-anchor="end" transform="translate(1711.2 405.94) rotate(-45)">Jan 2024</text>
<text class="t10" text-anchor="end" transform="translate(1741.64 405.95) rotate(-45)">Feb 2024</text>
<text class="t10" text-anchor="end" transform="translate(1768.93 405.73) rotate(-45)">Mar 2024</text>
<text class="t10" text-anchor="end" transform="translate(1798.22 406.25) rotate(-45)">Apr 2024</text>
<text class="t10" text-anchor="end" transform="translate(1826.58 405.85) rotate(-45)">May 2024</text>
<text class="t10" text-anchor="end" transform="translate(1855.41 405.94) rotate(-45)">Jun 2024</text>
<text class="t10" text-anchor="end" transform="translate(1883.87 406.42) rotate(-45)">Jul 2024</text>
<text class="t10" text-anchor="end" transform="translate(1914.29 406.05) rotate(-45)">Aug 2024</text>
<text class="t10" text-anchor="end" transform="translate(1943.71 405.65) rotate(-45)">Sep 2024</text>
<text class="t10" text-anchor="end" transform="translate(1972.33 406.25) rotate(-45)">Oct 2024</text>
</g>
<g class="yt">
<text class="t10" text-anchor="end" x="60.71" y="393.59">0</text>
<text class="t10" text-anchor="end" x="59.65" y="334.61">20</text>
<text class="t10" text-anchor="end" x="59.61" y="275.62">40</text>
<text class="t10" text-anchor="end" x="59.55" y="215.56">60</text>
<text class="t10" text-anchor="end" x="59.65" y="156.54">80</text>
<text class="t10" text-anchor="end" x="59.47" y="97.53">100</text>
<text class="t10" text-anchor="end" x="59.61" y="38.59">120</text>
</g>
<text class="t12" text-anchor="middle" transform="translate(1024.07 475.56) scale(1 1.04)">Month</text>
<text class="t12" text-anchor="middle" transform="translate(22.59 211.7) rotate(-90) scale(1 1.04)">Trend Value</text>
<text class="ttl" text-anchor="middle" x="1025.42" y="24.58" textLength="319.02" lengthAdjust="spacing">VPN Search Trend for Tunisia</text>
<text class="ann" text-anchor="middle" x="403.36" y="62.6">1</text>
<rect class="legbox" x="77.5" y="40.5" width="205" height="25" rx="2.78" ry="2.78"/>
<line class="series" x1="82.15" y1="51.97" x2="109.93" y2="51.97"/>
<circle class="legdot" cx="96.5" cy="52.5" r="4.86"/>
<text class="t10" text-anchor="start" x="121" y="56.5">Tunisia VPN popularity</text>
</svg>
</body>
</html>
